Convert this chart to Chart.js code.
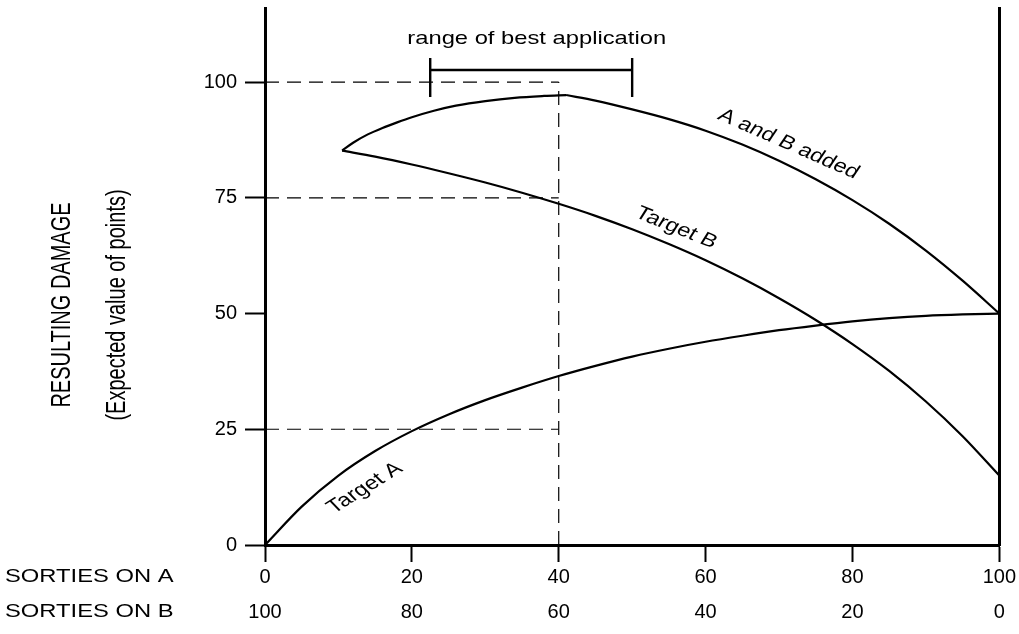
<!DOCTYPE html>
<html>
<head>
<meta charset="utf-8">
<script src="https://cdn.jsdelivr.net/npm/chart.js@4.4.1/dist/chart.umd.min.js"></script>
<style>
  html, body { margin:0; padding:0; background:#fff; }
  #wrap { width:1019px; height:634px; }
</style>
</head>
<body>
<div id="wrap"><canvas id="chart" width="1019" height="634"></canvas></div>
<script>
// ===== DATA =====
const xTicks = [0, 20, 40, 60, 80, 100];
const yTicks = [0, 25, 50, 75, 100];

// Target A (sorties on A -> expected damage)
const targetAX = [0, 5, 10, 15, 20, 25, 30, 35, 40, 45, 50, 55, 60, 65, 70, 75, 80, 85, 90, 95, 100];
const targetAY = [0, 8.3, 15.0, 20.3, 24.6, 28.2, 31.3, 34.0, 36.5, 38.7, 40.7, 42.4, 43.9, 45.2, 46.4, 47.4, 48.3, 49.0, 49.5, 49.8, 50];

// Target B
const targetBX = [10.5, 15, 20, 25, 30, 35, 40, 45, 50, 55, 60, 65, 70, 75, 80, 85, 90, 95, 100];
const targetBY = [85.2, 83.9, 82.2, 80.3, 78.3, 76.1, 73.7, 71.1, 68.2, 65.0, 61.5, 57.6, 53.3, 48.6, 43.4, 37.6, 31.0, 23.5, 15.0];

// A and B added (rising part, falling part)
const sumRiseX = [10.5, 12, 14, 16, 18, 20, 23, 26, 30, 34, 38, 41];
const sumRiseY = [85.2, 86.9, 88.7, 90.1, 91.3, 92.4, 93.8, 94.9, 95.9, 96.6, 97.0, 97.2];
const sumFallX = [41, 45, 50, 55, 60, 65, 70, 75, 80, 85, 90, 95, 100];
const sumFallY = [97.2, 96.0, 94.1, 92.0, 89.5, 86.5, 83.0, 79.0, 74.5, 69.4, 63.6, 57.1, 50];

// dashed guides and "range of best application" bracket
const guideX = 40;
const guideLevels = [100, 75, 25];
const rangeFrom = 22.5, rangeTo = 50, rangeLevel = 102.6, capTop = 105.2, capBottom = 96.8;

const yMax = 116;

// ===== helpers =====
const FONT = '"Liberation Sans", Arial, Helvetica, sans-serif';
const pts = (xs, ys) => xs.map((x, i) => ({ x: x, y: ys[i] }));

function curve(data) {
  return { data: data, borderColor: '#000', borderWidth: 2.2, pointRadius: 0,
           cubicInterpolationMode: 'monotone', fill: false };
}
function straight(data, width, dash) {
  return { data: data, borderColor: '#000', borderWidth: width, pointRadius: 0,
           tension: 0, fill: false, borderDash: dash || [] };
}

// stretched text (the scan is wider than it is tall)
function drawText(ctx, txt, x, y, o) {
  const sx = o.sx || 1;
  const a = (o.angle || 0) * Math.PI / 180;
  const inner = Math.abs(o.angle || 0) === 90 ? a : Math.atan(Math.tan(a) * sx);
  ctx.save();
  ctx.translate(x, y);
  ctx.scale(sx, 1);
  ctx.rotate(inner);
  ctx.font = (o.size || 19) + 'px ' + FONT;
  ctx.fillStyle = '#000';
  ctx.textAlign = o.align || 'center';
  ctx.textBaseline = 'middle';
  ctx.fillText(txt, 0, 0);
  ctx.restore();
}

const textPlugin = {
  id: 'texts',
  afterDraw(chart) {
    const ctx = chart.ctx, sx = chart.scales.x, sy = chart.scales.y, s2 = chart.scales.x2;
    const X = v => sx.getPixelForValue(v), Y = v => sy.getPixelForValue(v);

    drawText(ctx, 'range of best application', X(37), Y(109.3), { size: 19, sx: 1.25 });
    drawText(ctx, 'A and B added', X(71.3), Y(86.6), { size: 19, sx: 1.25, angle: 23.6 });
    drawText(ctx, 'Target B', X(56), Y(68.5), { size: 19, sx: 1.25, angle: 22 });
    drawText(ctx, 'Target A', X(13.6), Y(12.3), { size: 19, sx: 1.25, angle: -32 });

    drawText(ctx, 'RESULTING DAMAGE', 62, 305, { size: 20, sx: 1.4, angle: -90 });
    drawText(ctx, '(Expected value of points)', 117, 305, { size: 20, sx: 1.4, angle: -90 });

    drawText(ctx, 'SORTIES ON A', 5, sx.top + 32, { size: 19, sx: 1.25, align: 'left' });
    drawText(ctx, 'SORTIES ON B', 5, s2.top + 17, { size: 19, sx: 1.25, align: 'left' });
  }
};

const datasets = [
  curve(pts(targetAX, targetAY)),
  curve(pts(targetBX, targetBY)),
  curve(pts(sumRiseX, sumRiseY)),
  curve(pts(sumFallX, sumFallY)),
  straight([{ x: guideX, y: 0 }, { x: guideX, y: guideLevels[0] }], 1.2, [14, 8]),
  ...guideLevels.map(l => straight([{ x: 0, y: l }, { x: guideX, y: l }], 1.2, [14, 8])),
  straight([{ x: rangeFrom, y: rangeLevel }, { x: rangeTo, y: rangeLevel }], 2.4),
  straight([{ x: rangeFrom, y: capTop }, { x: rangeFrom, y: capBottom }], 2.4),
  straight([{ x: rangeTo, y: capTop }, { x: rangeTo, y: capBottom }], 2.4)
];

const tickFont = { family: FONT, size: 20 };

new Chart(document.getElementById('chart'), {
  type: 'line',
  data: { datasets: datasets },
  options: {
    responsive: false,
    animation: false,
    events: [],
    layout: { padding: { top: 8, left: 0, right: 0, bottom: 0 } },
    plugins: { legend: { display: false }, tooltip: { enabled: false } },
    scales: {
      x: {
        type: 'linear', position: 'bottom', min: 0, max: 100, weight: 0,
        afterBuildTicks: s => { s.ticks = xTicks.map(v => ({ value: v })); },
        afterFit: s => { s.height = 50; },
        border: { display: true, color: '#000', width: 3 },
        grid: { drawOnChartArea: false, drawTicks: true, tickLength: 17, tickWidth: 2, tickColor: '#000' },
        ticks: { color: '#000', font: tickFont, padding: 3, maxRotation: 0 }
      },
      x2: {
        type: 'linear', position: 'bottom', min: 0, max: 100, reverse: true, weight: 1,
        afterBuildTicks: s => { s.ticks = xTicks.map(v => ({ value: v })); },
        afterFit: s => { s.height = 39; },
        border: { display: false },
        grid: { display: false, drawTicks: false },
        ticks: { color: '#000', font: tickFont, padding: 5, maxRotation: 0 }
      },
      y: {
        type: 'linear', position: 'left', min: 0, max: yMax,
        afterBuildTicks: s => { s.ticks = yTicks.map(v => ({ value: v })); },
        afterFit: s => { s.width = 265; s.paddingTop = 0; s.paddingBottom = 0; },
        border: { display: true, color: '#000', width: 3 },
        grid: { drawOnChartArea: false, drawTicks: true, tickLength: 20, tickWidth: 2, tickColor: '#000' },
        ticks: { color: '#000', font: tickFont, padding: 8 }
      },
      yr: {
        type: 'linear', position: 'right', min: 0, max: yMax,
        afterFit: s => { s.width = 19; s.paddingTop = 0; s.paddingBottom = 0; },
        border: { display: true, color: '#000', width: 3 },
        grid: { display: false, drawTicks: false },
        ticks: { display: false }
      }
    }
  },
  plugins: [textPlugin]
});
</script>
</body>
</html>
